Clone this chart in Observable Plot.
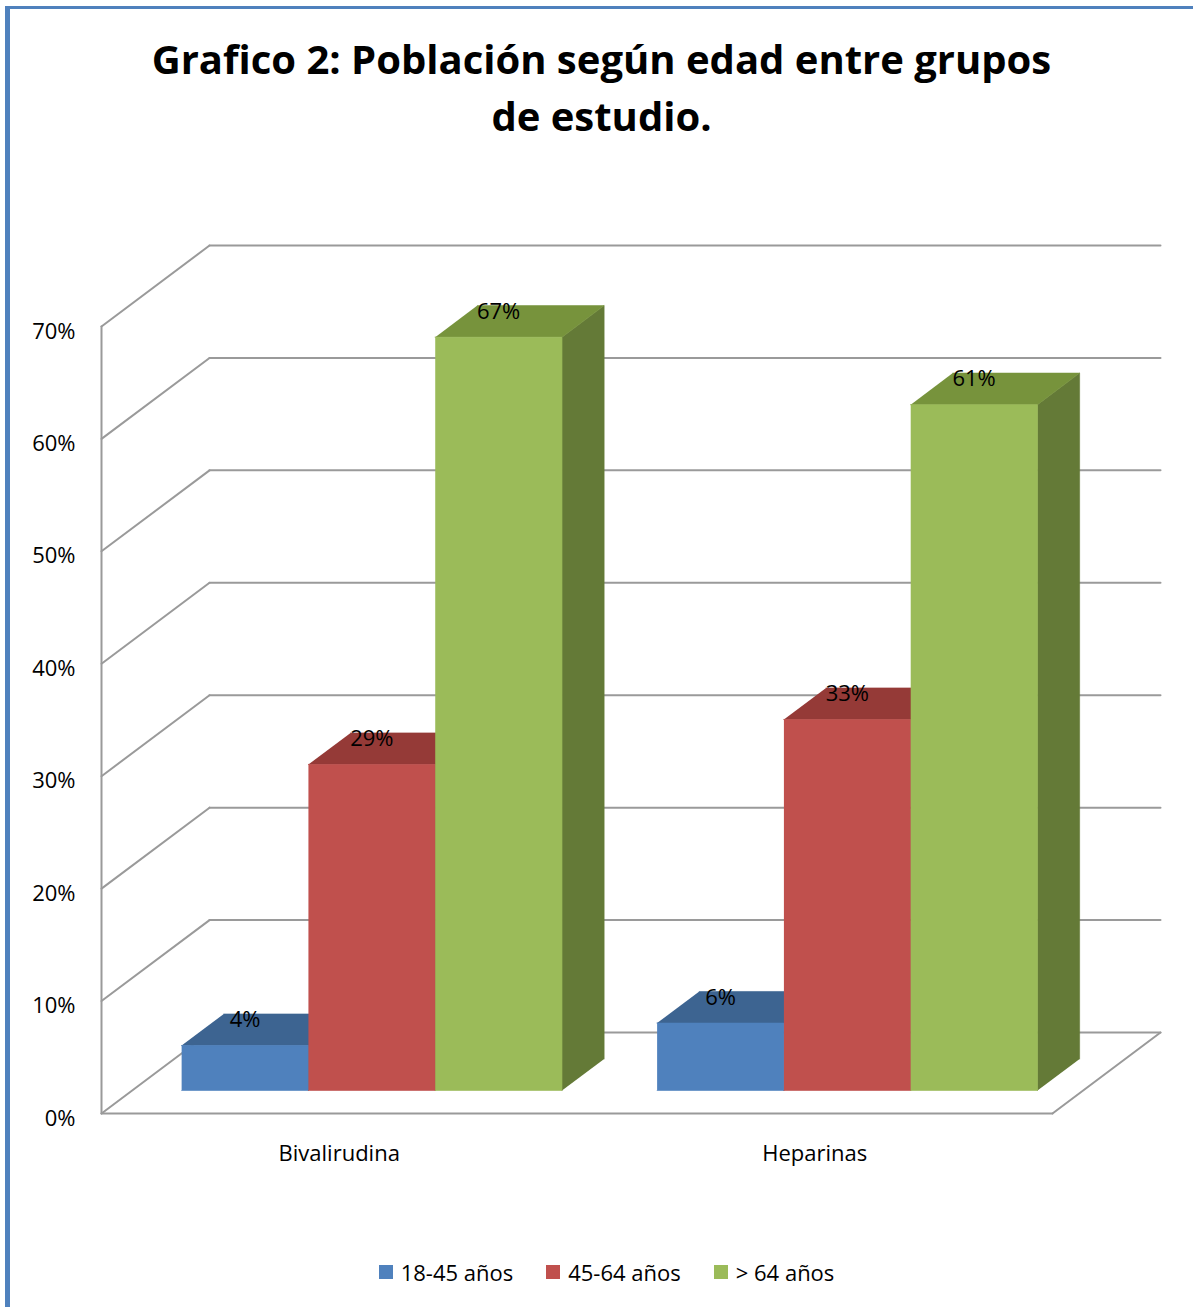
<!DOCTYPE html>
<html>
<head>
<meta charset="utf-8">
<script src="https://cdn.jsdelivr.net/npm/d3@7"></script>
<script src="https://cdn.jsdelivr.net/npm/@observablehq/plot@0.6"></script>
<style>
  html, body { margin: 0; padding: 0; background: #fff; }
  body { width: 1193px; height: 1307px; position: relative; overflow: hidden; font-family: "Open Sans", sans-serif; }
  .bl { position: absolute; left: 5px; top: 6px; width: 5px; height: 1301px; background: #4F81BD; }
  .bt { position: absolute; left: 5px; top: 6px; width: 1188px; height: 3px; background: #4F81BD; }
  #title { box-sizing: border-box; height: 170px; padding: 30px 0 0 10px; text-align: center;
           font-weight: 700; font-size: 40px; line-height: 57px; color: #000; letter-spacing: 0px; }
  #chart svg { display: block; overflow: visible; }
  #legend { display: flex; justify-content: center; align-items: center; gap: 33px; margin-top: 48px; padding-left: 20px;
            font-size: 22px; line-height: 28px; color: #000; }
  #legend .item { display: flex; align-items: center; }
  #legend .sw { width: 14px; height: 14px; margin-right: 8px; }
</style>
</head>
<body>
<div class="bl"></div><div class="bt"></div>
<div id="title">Grafico 2: Población según edad entre grupos<br>de estudio.</div>
<div id="chart"></div>
<div id="legend"></div>
<script>
// ---- data ----
const categories = ["Bivalirudina", "Heparinas"];
const series = ["18-45 años", "45-64 años", "> 64 años"];
const valuesBivalirudina = [0.04, 0.29, 0.67];
const valuesHeparinas = [0.06, 0.33, 0.61];
const yTicks = [0, 0.1, 0.2, 0.3, 0.4, 0.5, 0.6, 0.7];
const frontColors = ["#4F81BD", "#C0504D", "#9BBB59"];
const topColors = ["#3D6491", "#953A37", "#77933C"];
const sideColors = ["#335479", "#7E302E", "#647A37"];

const values = [valuesBivalirudina, valuesHeparinas];
const fmt = d3.format(".0%");

// oblique projection of a depth coordinate z (0 = front, 1 = back wall)
const DX = 0.2272, DY = 0.072;
const P = (x, y, z) => ({x: x + z * DX, y: y + z * DY});
const yMax = yTicks[yTicks.length - 1];
const nCat = categories.length;

// walls / floor lines
const wall = [];
yTicks.forEach((v, k) => {
  wall.push({id: "back" + k, ...P(0, v, 1)}, {id: "back" + k, ...P(nCat, v, 1)});
  wall.push({id: "side" + k, ...P(0, v, 0)}, {id: "side" + k, ...P(0, v, 1)});
});
wall.push({id: "edge", ...P(0, 0, 0)}, {id: "edge", ...P(0, yMax, 0)});
wall.push({id: "floorF", ...P(0, 0, 0)}, {id: "floorF", ...P(nCat, 0, 0)});
wall.push({id: "floorR", ...P(nCat, 0, 0)}, {id: "floorR", ...P(nCat, 0, 1)});

// bar faces, ordered so later bars cover earlier ones
const z0 = 0.284, z1 = 0.674, pad = 0.104, bw = 0.8 / series.length;
const faces = [];
const labels = [];
categories.forEach((c, i) => {
  series.forEach((s, j) => {
    const v = values[i][j];
    const x1 = i + pad + j * bw, x2 = x1 + bw;
    const id = c + s;
    [[x2, 0, z0], [x2, v, z0], [x2, v, z1], [x2, 0, z1]].forEach(p => faces.push({id: id + "side", color: sideColors[j], ...P(...p)}));
    [[x1, v, z0], [x2, v, z0], [x2, v, z1], [x1, v, z1]].forEach(p => faces.push({id: id + "top", color: topColors[j], ...P(...p)}));
    [[x1, 0, z0], [x2, 0, z0], [x2, v, z0], [x1, v, z0]].forEach(p => faces.push({id: id + "front", color: frontColors[j], ...P(...p)}));
    labels.push({text: fmt(v), x: P((x1 + x2) / 2, v, z0).x, y: P(0, v, z1).y});
  });
});

const catLabels = categories.map((c, i) => ({text: c, ...P(i + 0.5, 0, 0)}));
const tickLabels = yTicks.map(v => ({text: fmt(v), ...P(0, v, 0)}));

const T = 170, H = 1040;
const chart = Plot.plot({
  width: 1193,
  height: H,
  marginLeft: 101,
  marginRight: 33,
  marginTop: 245 - T,
  marginBottom: H - (1113 - T),
  x: {domain: [0, nCat + DX], axis: null},
  y: {domain: [0, yMax + DY], axis: null},
  color: {type: "identity"},
  style: {fontFamily: "Open Sans, sans-serif", fontSize: "22px", color: "#000", background: "transparent"},
  marks: [
    Plot.line(wall, {x: "x", y: "y", z: "id", stroke: "#9a9a9a", strokeWidth: 2}),
    Plot.line(faces, {x: "x", y: "y", z: "id", fill: "color", stroke: "color", strokeWidth: 0.6}),
    Plot.text(labels, {x: "x", y: "y", text: "text", dy: 6, fontSize: 22, fill: "#000", textAnchor: "middle"}),
    Plot.text(tickLabels, {x: "x", y: "y", text: "text", dx: -26, dy: 5, fontSize: 22, fill: "#000", textAnchor: "end"}),
    Plot.text(catLabels, {x: "x", y: "y", text: "text", dy: 40, fontSize: 22, fill: "#000", textAnchor: "middle"})
  ]
});
document.getElementById("chart").appendChild(chart);

const legend = document.getElementById("legend");
series.forEach((s, j) => {
  const item = document.createElement("div");
  item.className = "item";
  const sw = document.createElement("span");
  sw.className = "sw";
  sw.style.background = frontColors[j];
  const t = document.createElement("span");
  t.textContent = s;
  item.appendChild(sw); item.appendChild(t);
  legend.appendChild(item);
});
</script>
</body>
</html>
